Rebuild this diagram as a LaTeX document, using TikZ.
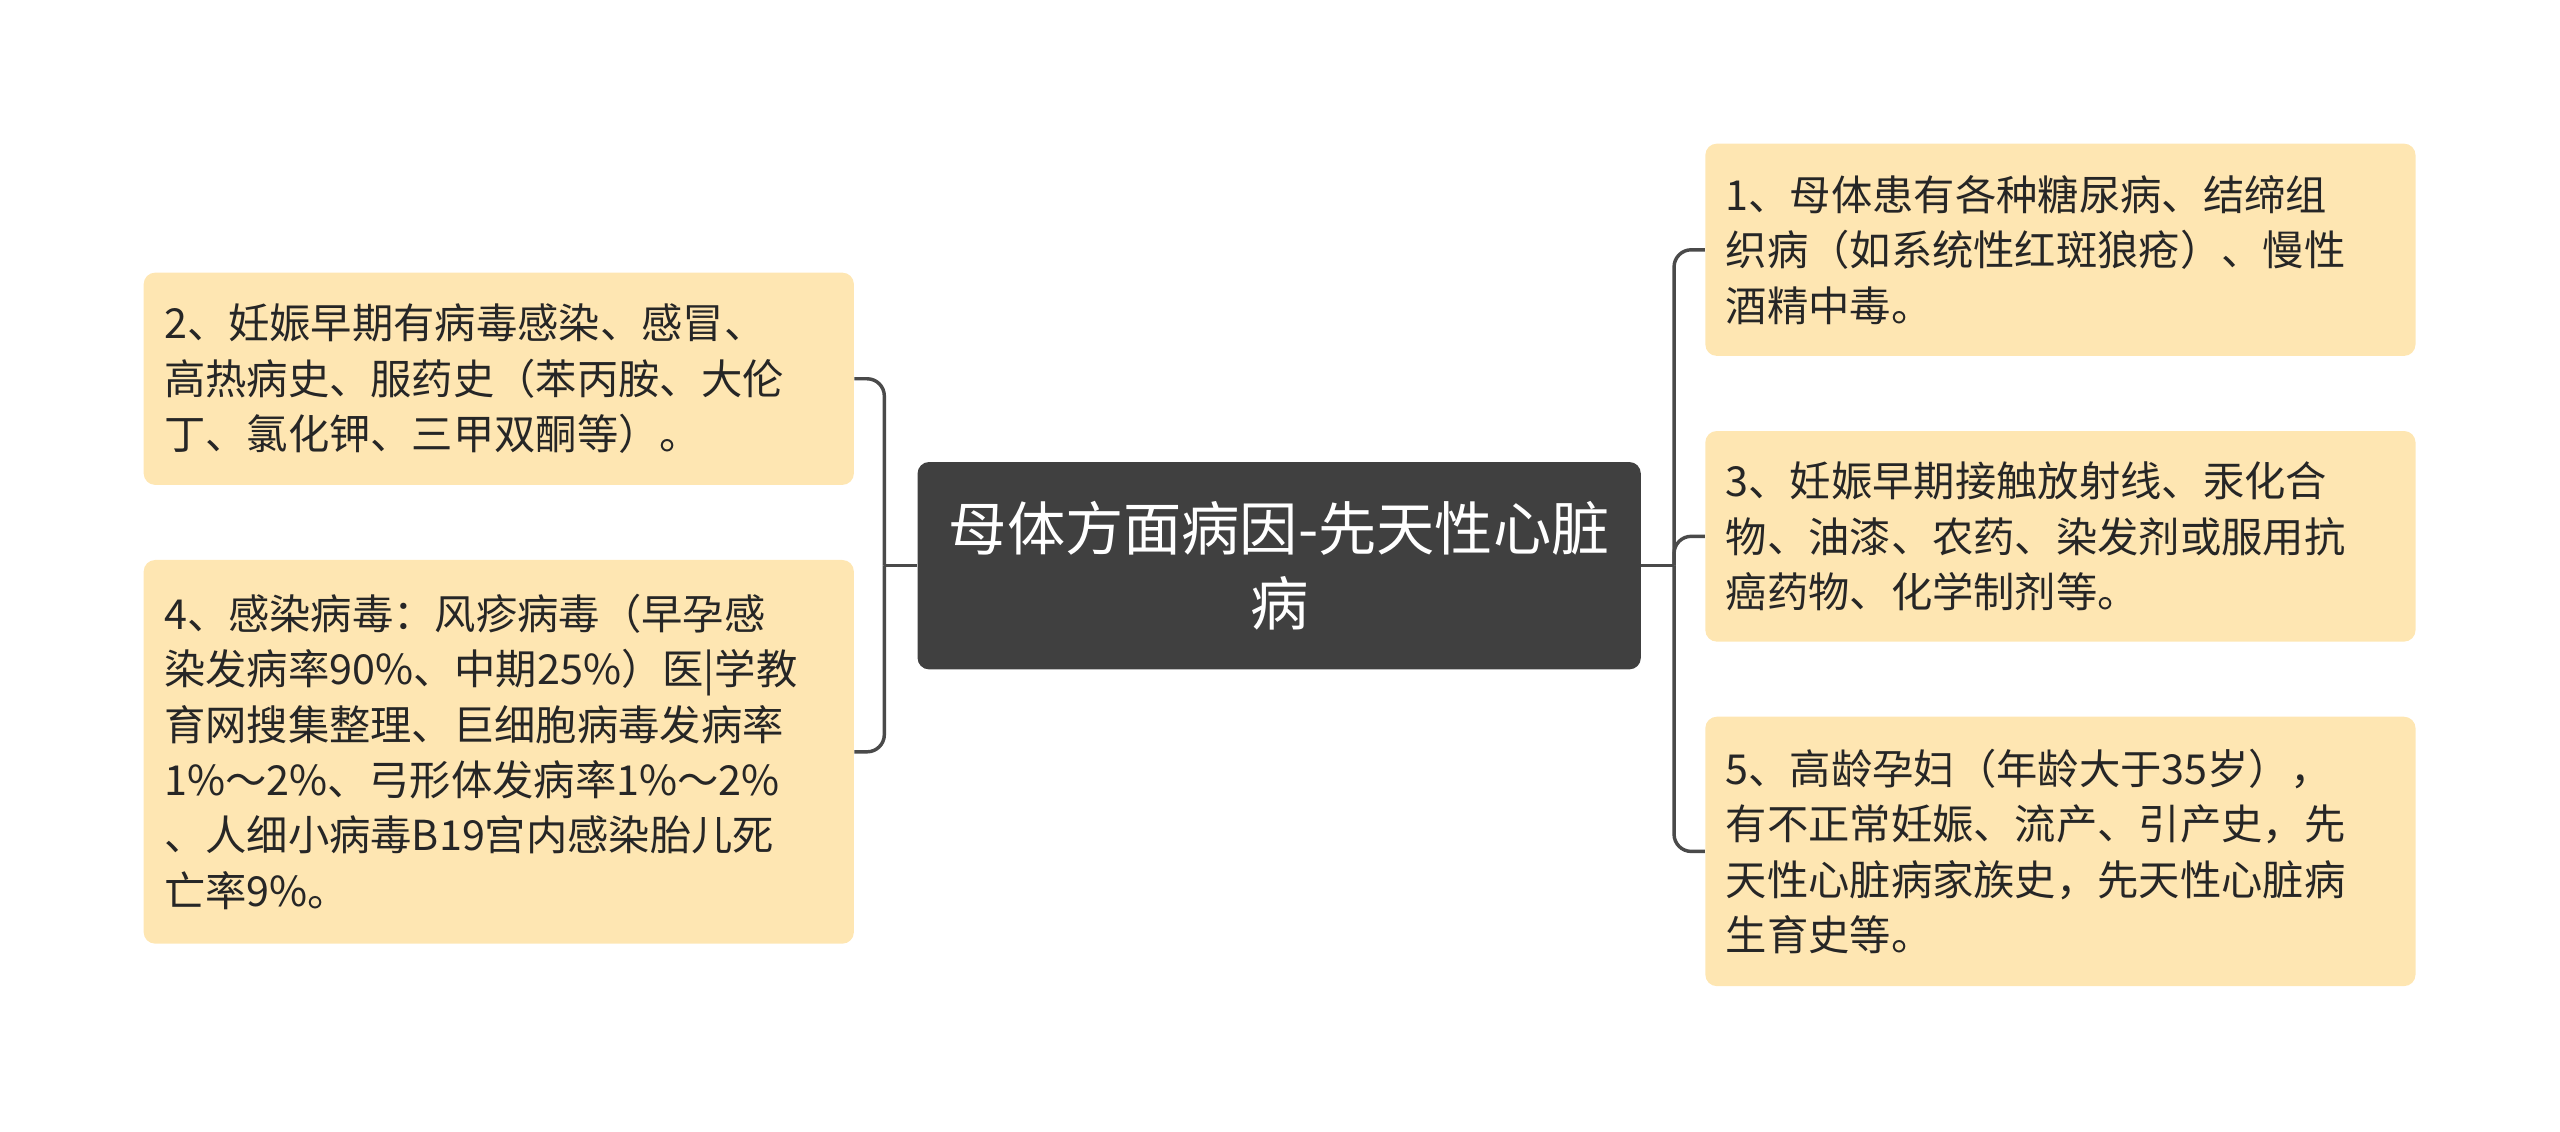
\documentclass[tikz,border=0pt]{standalone}
\usepackage{fontspec}
\setmainfont{Noto Sans CJK SC}
\usetikzlibrary{positioning}
\definecolor{leafbg}{HTML}{FEE6B2}
\definecolor{rootbg}{HTML}{404040}
\definecolor{linkc}{HTML}{4A4A4A}
\tikzset{
  leaf/.style={fill=leafbg, rounded corners=4pt, minimum width=8.7cm, text width=8.2cm,
    align=left, inner xsep=0.25cm, font=\fontsize{14.4}{19.3}\selectfont, text=black!85},
  root/.style={fill=rootbg, rounded corners=4pt, minimum width=8.86cm, minimum height=2.54cm,
    text width=8.5cm, align=center, text=white, font=\fontsize{20.3}{26}\selectfont},
  link/.style={draw=linkc, line width=1.2pt, rounded corners=6pt}
}
\begin{document}
\begin{tikzpicture}
  \useasboundingbox (0,0) rectangle (31.36,13.86);
  \node[root] (main) at (15.67,6.93) {母体方面病因-先天性心脏\\病};
  % left side
  \node[leaf, minimum height=2.6cm] (l1) at (6.11,9.22)
    {2、妊娠早期有病毒感染、感冒、\\高热病史、服药史（苯丙胺、大伦\\丁、氯化钾、三甲双酮等）。};
  \node[leaf, minimum height=4.7cm] (l2) at (6.11,4.65)
    {4、感染病毒：风疹病毒（早孕感\\染发病率90\%、中期25\%）医|学教\\育网搜集整理、巨细胞病毒发病率\\1\%～2\%、弓形体发病率1\%～2\%\\、人细小病毒B19宫内感染胎儿死\\亡率9\%。};
  % right side
  \node[leaf, minimum height=2.6cm] (r1) at (25.24,10.8)
    {1、母体患有各种糖尿病、结缔组\\织病（如系统性红斑狼疮）、慢性\\酒精中毒。};
  \node[leaf, minimum height=2.58cm] (r2) at (25.24,7.29)
    {3、妊娠早期接触放射线、汞化合\\物、油漆、农药、染发剂或服用抗\\癌药物、化学制剂等。};
  \node[leaf, minimum height=3.3cm] (r3) at (25.24,3.43)
    {5、高龄孕妇（年龄大于35岁），\\有不正常妊娠、流产、引产史，先\\天性心脏病家族史，先天性心脏病\\生育史等。};
  % connectors
  \coordinate (lj) at ([xshift=-0.4cm]main.west);
  \coordinate (rj) at ([xshift=0.4cm]main.east);
  \draw[link] (main.west) -- (lj);
  \draw[link] (lj) |- (l1.east);
  \draw[link] (lj) |- (l2.east);
  \draw[link] (main.east) -- (rj);
  \foreach \n in {r1,r2,r3} \draw[link] (rj) |- (\n.west);
\end{tikzpicture}
\end{document}
